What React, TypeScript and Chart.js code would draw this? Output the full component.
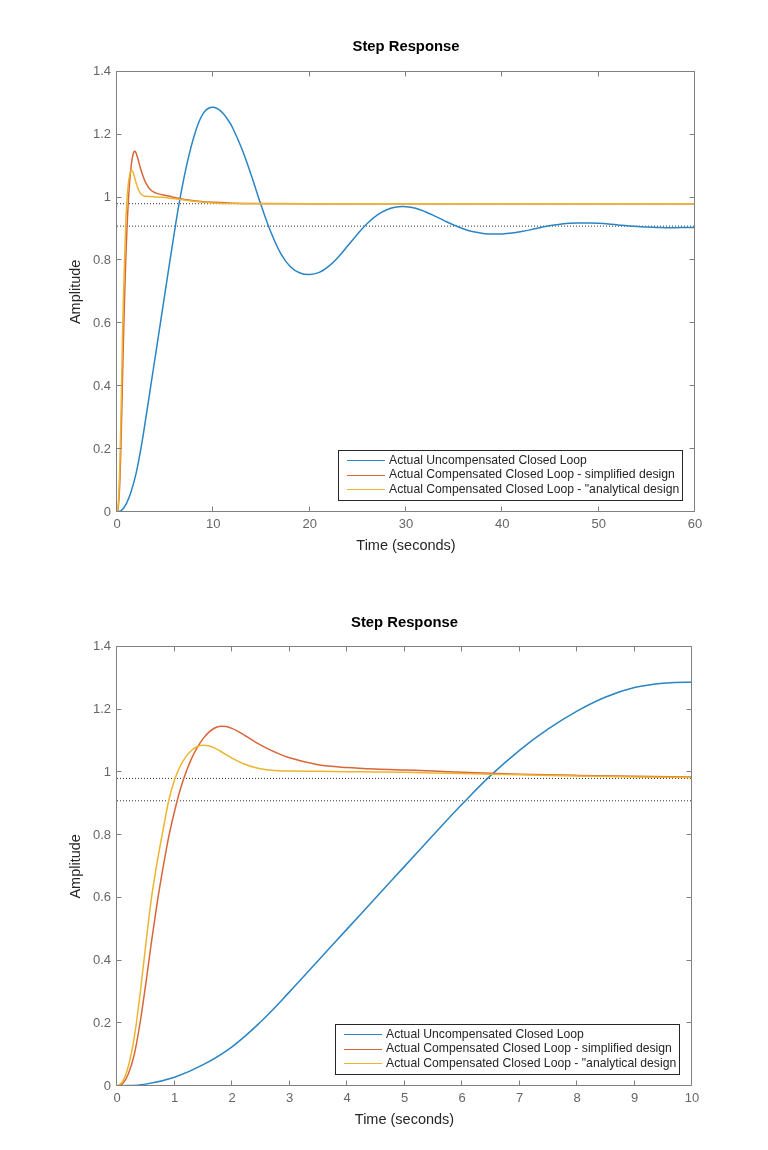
import React, { useEffect, useRef } from 'react';
import { Chart, registerables } from 'chart.js';

Chart.register(...registerables);

// ---------------- data ----------------
const T_UNCOMP = [
  0, 0.5, 1, 1.5, 2, 2.5, 3, 3.5, 4, 4.5, 5, 5.5, 6, 6.5, 7, 7.5, 8, 8.5, 9, 9.5, 10,
  10.5, 11, 11.5, 12, 13, 14, 15, 16, 17, 18, 19, 20, 21, 22, 23, 24, 25, 26, 27, 28, 29, 30,
  31, 32, 33, 34, 35, 36, 37, 38, 39, 40, 41, 42, 43, 44, 45, 46, 47, 48, 49, 50,
  51, 52, 53, 54, 55, 56, 57, 58, 59, 60,
];
const Y_UNCOMP = [
  0, 0.006, 0.028, 0.068, 0.125, 0.205, 0.3, 0.4, 0.5, 0.6, 0.7, 0.8, 0.898, 0.99, 1.07, 1.138, 1.195, 1.24, 1.27, 1.284, 1.287,
  1.281, 1.268, 1.248, 1.222, 1.152, 1.065, 0.972, 0.888, 0.822, 0.78, 0.76, 0.755, 0.762, 0.782, 0.812, 0.848, 0.885, 0.918, 0.944, 0.961, 0.97, 0.971,
  0.966, 0.955, 0.941, 0.926, 0.912, 0.9, 0.891, 0.886, 0.884, 0.884, 0.887, 0.892, 0.898, 0.905, 0.911, 0.915, 0.918, 0.919, 0.919, 0.918,
  0.916, 0.913, 0.91, 0.908, 0.906, 0.905, 0.904, 0.904, 0.905, 0.905,
];

const T_COMP = [
  0, 0.1, 0.2, 0.3, 0.4, 0.5, 0.6, 0.7, 0.8, 0.9, 1.0, 1.1, 1.2, 1.3, 1.4, 1.5, 1.6, 1.7, 1.8, 1.9, 2.0,
  2.2, 2.4, 2.6, 2.8, 3.0, 3.5, 4, 4.5, 5, 5.5, 6, 7, 8, 9, 10, 12, 15, 20, 30, 40, 50, 60,
];
const Y_SIMPLIFIED = [
  0, 0.008, 0.04, 0.1, 0.2, 0.325, 0.46, 0.585, 0.695, 0.795, 0.875, 0.945, 1.0, 1.045, 1.08, 1.108, 1.128, 1.141, 1.147, 1.146, 1.14,
  1.12, 1.097, 1.077, 1.06, 1.046, 1.024, 1.015, 1.01, 1.007, 1.004, 1.0, 0.994, 0.99, 0.987, 0.985, 0.982, 0.9808, 0.9805, 0.9804, 0.9804, 0.9804, 0.9804,
];
const Y_ANALYTICAL = [
  0, 0.015, 0.065, 0.155, 0.29, 0.45, 0.6, 0.715, 0.815, 0.91, 0.975, 1.02, 1.05, 1.07, 1.082, 1.086, 1.084, 1.077, 1.067, 1.056, 1.045,
  1.027, 1.015, 1.008, 1.005, 1.004, 1.003, 1.002, 1.001, 1.0, 0.998, 0.996, 0.992, 0.988, 0.985, 0.983, 0.981, 0.9806, 0.9805, 0.9804, 0.9804, 0.9804, 0.9804,
];

const T_REF = [0, 60];
const Y_REF_COMP = [0.9804, 0.9804];
const Y_REF_UNCOMP = [0.9091, 0.9091];

const X_TICKS_FULL = [0, 10, 20, 30, 40, 50, 60];
const X_TICK_LABELS_FULL = ['0', '10', '20', '30', '40', '50', '60'];
const X_TICKS_ZOOM = [0, 1, 2, 3, 4, 5, 6, 7, 8, 9, 10];
const X_TICK_LABELS_ZOOM = ['0', '1', '2', '3', '4', '5', '6', '7', '8', '9', '10'];
const Y_TICKS = [0, 0.2, 0.4, 0.6, 0.8, 1, 1.2, 1.4];
const Y_TICK_LABELS = ['0', '0.2', '0.4', '0.6', '0.8', '1', '1.2', '1.4'];

const SERIES_LABELS = [
  'Actual Uncompensated Closed Loop',
  'Actual Compensated Closed Loop - simplified design',
  'Actual Compensated Closed Loop - "analytical design',
];
const TITLE = 'Step Response';
const X_TITLE = 'Time (seconds)';
const Y_TITLE = 'Amplitude';

// ---------------- styles ----------------
const FONT = '"Liberation Sans", Arial, Helvetica, sans-serif';
const BLUE = '#2a85c4';
const ORANGE = '#d9663a';
const YELLOW = '#edb52e';
const BOX = '#808080';

const pts = (xs: number[], ys: number[]) => xs.map((x, i) => ({ x, y: ys[i] }));

const matlabAxes = {
  id: 'matlabAxes',
  afterDatasetsDraw(chart: any) {
    const { ctx, chartArea, scales } = chart;
    const l = Math.round(chartArea.left) - 0.5;
    const r = Math.round(chartArea.right) - 0.5;
    const t = Math.round(chartArea.top) - 0.5;
    const b = Math.round(chartArea.bottom) - 0.5;
    ctx.save();
    ctx.strokeStyle = BOX;
    ctx.lineWidth = 1;
    ctx.beginPath();
    ctx.rect(l, t, r - l, b - t);
    ctx.stroke();
    ctx.beginPath();
    scales.x.ticks.forEach((tk: any) => {
      const px = Math.round(scales.x.getPixelForValue(tk.value)) - 0.5;
      ctx.moveTo(px, b);
      ctx.lineTo(px, b - 5);
      ctx.moveTo(px, t);
      ctx.lineTo(px, t + 5);
    });
    scales.y.ticks.forEach((tk: any) => {
      const py = Math.round(scales.y.getPixelForValue(tk.value)) - 0.5;
      ctx.moveTo(l, py);
      ctx.lineTo(l + 5, py);
      ctx.moveTo(r, py);
      ctx.lineTo(r - 5, py);
    });
    ctx.stroke();
    ctx.restore();
  },
  afterDraw(chart: any) {
    const { ctx, chartArea } = chart;
    const items = chart.data.datasets.filter((d: any) => d.inLegend);
    ctx.save();
    ctx.font = '12.2px ' + FONT;
    const tw = Math.max(...items.map((d: any) => ctx.measureText(d.label).width));
    const right = Math.round(chartArea.right) - 13;
    const bottom = Math.round(chartArea.bottom) - 12;
    const w = Math.round(tw + 54);
    const h = 50;
    const left = right - w;
    const top = bottom - h;
    ctx.fillStyle = '#ffffff';
    ctx.fillRect(left, top, w, h);
    ctx.strokeStyle = '#262626';
    ctx.lineWidth = 1;
    ctx.strokeRect(left + 0.5, top + 0.5, w, h);
    items.forEach((d: any, i: number) => {
      const y = top + 10 + i * 14.6;
      ctx.strokeStyle = d.borderColor;
      ctx.lineWidth = 1;
      ctx.beginPath();
      ctx.moveTo(left + 9, Math.round(y) + 0.5);
      ctx.lineTo(left + 47, Math.round(y) + 0.5);
      ctx.stroke();
      ctx.fillStyle = '#262626';
      ctx.textAlign = 'left';
      ctx.textBaseline = 'middle';
      ctx.fillText(d.label, left + 51, y + 0.5);
    });
    ctx.restore();
  },
};

type Props = {
  xMax: number;
  xTicks: number[];
  xLabels: string[];
  padRight: number;
  titleTop: number;
  titleBottom: number;
  xAxisHeight: number;
  xTitlePad: number;
};

function StepChart(p: Props) {
  const ref = useRef<HTMLCanvasElement | null>(null);
  useEffect(() => {
    if (!ref.current) return;
    const lineBase = {
      pointRadius: 0,
      borderWidth: 1.5,
      fill: false,
    };
    const chart = new Chart(ref.current, {
      type: 'line',
      data: {
        datasets: [
          { ...lineBase, label: SERIES_LABELS[0], data: pts(T_UNCOMP, Y_UNCOMP), borderColor: BLUE, tension: 0.4, order: 2, inLegend: true } as any,
          { ...lineBase, label: SERIES_LABELS[1], data: pts(T_COMP, Y_SIMPLIFIED), borderColor: ORANGE, cubicInterpolationMode: 'monotone', order: 1, inLegend: true } as any,
          { ...lineBase, label: SERIES_LABELS[2], data: pts(T_COMP, Y_ANALYTICAL), borderColor: YELLOW, cubicInterpolationMode: 'monotone', order: 0, inLegend: true } as any,
          { label: 'ref1', data: pts(T_REF, Y_REF_COMP), borderColor: 'rgba(30,30,30,0.9)', borderWidth: 1, borderDash: [1, 2], pointRadius: 0, order: 3 } as any,
          { label: 'ref2', data: pts(T_REF, Y_REF_UNCOMP), borderColor: 'rgba(30,30,30,0.9)', borderWidth: 1, borderDash: [1, 2], pointRadius: 0, order: 3 } as any,
        ],
      },
      options: {
        responsive: false,
        animation: false,
        devicePixelRatio: 1,
        events: [],
        layout: { padding: { left: 0, right: p.padRight, top: 0, bottom: 0 } },
        plugins: {
          legend: { display: false },
          tooltip: { enabled: false },
          title: {
            display: true,
            text: TITLE,
            fullSize: false,
            color: '#000000',
            font: { family: FONT, size: 14.8, weight: 'bold', lineHeight: 1.2 },
            padding: { top: p.titleTop, bottom: p.titleBottom },
          },
        },
        scales: {
          x: {
            type: 'linear',
            min: 0,
            max: p.xMax,
            grid: { display: false, drawTicks: false },
            border: { display: false },
            afterBuildTicks: (axis: any) => {
              axis.ticks = p.xTicks.map((v) => ({ value: v }));
            },
            afterFit: (axis: any) => {
              axis.height = p.xAxisHeight;
            },
            ticks: {
              padding: 4.2,
              color: '#666666',
              font: { family: FONT, size: 13, lineHeight: 1.2 },
              maxRotation: 0,
              autoSkip: false,
              callback: (_v: any, i: number) => p.xLabels[i],
            },
            title: {
              display: true,
              text: X_TITLE,
              color: '#262626',
              font: { family: FONT, size: 14.5, lineHeight: 1.2 },
              padding: { top: 0, bottom: p.xTitlePad },
            },
          },
          y: {
            type: 'linear',
            min: 0,
            max: 1.4,
            grid: { display: false, drawTicks: false },
            border: { display: false },
            afterBuildTicks: (axis: any) => {
              axis.ticks = Y_TICKS.map((v) => ({ value: v }));
            },
            afterFit: (axis: any) => {
              axis.width = 117;
            },
            ticks: {
              padding: 6,
              color: '#666666',
              font: { family: FONT, size: 13, lineHeight: 1.2 },
              autoSkip: false,
              callback: (_v: any, i: number) => Y_TICK_LABELS[i],
            },
            title: {
              display: true,
              text: Y_TITLE,
              color: '#262626',
              font: { family: FONT, size: 14.5, lineHeight: 1.2 },
              padding: { top: 67.3, bottom: 0 },
            },
          },
        },
      } as any,
      plugins: [matlabAxes],
    });
    return () => chart.destroy();
  }, []);
  return <canvas ref={ref} width={768} height={575} style={{ width: 768, height: 575, display: 'block' }} />;
}

export default function App() {
  return (
    <div>
      <div style={{ position: 'absolute', left: 0, top: 0, width: 768, height: 575 }}>
        <StepChart
          xMax={60}
          xTicks={X_TICKS_FULL}
          xLabels={X_TICK_LABELS_FULL}
          padRight={73}
          titleTop={38.1}
          titleBottom={15.9}
          xAxisHeight={63}
          xTitlePad={20.3}
        />
      </div>
      <div style={{ position: 'absolute', left: 0, top: 575, width: 768, height: 575 }}>
        <StepChart
          xMax={10}
          xTicks={X_TICKS_ZOOM}
          xLabels={X_TICK_LABELS_ZOOM}
          padRight={76}
          titleTop={38.9}
          titleBottom={15.1}
          xAxisHeight={64}
          xTitlePad={21.3}
        />
      </div>
    </div>
  );
}
